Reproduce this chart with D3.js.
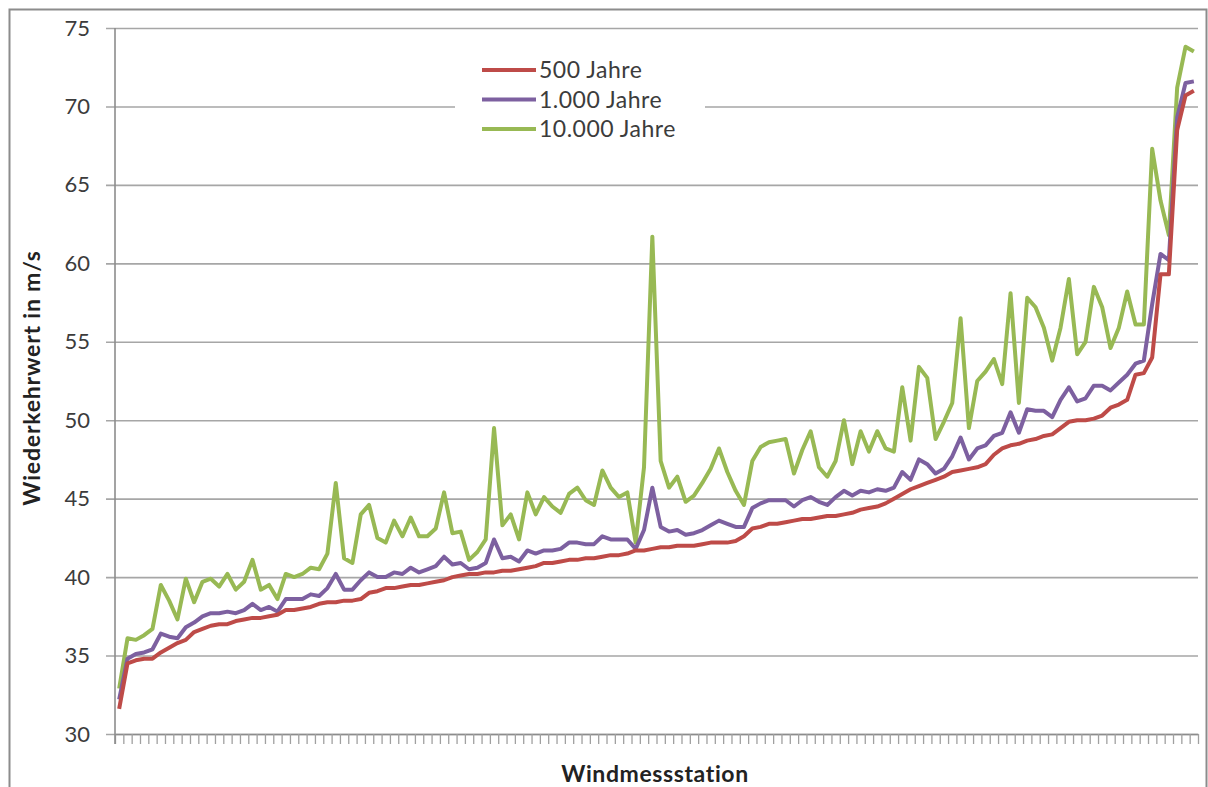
<html>
  <head>
    <meta charset="utf-8" />
    <title>Wiederkehrwert</title>
    <script src="https://cdn.jsdelivr.net/npm/d3@7"></script>
  </head>

  <style>
    html,
    body {
      width: 100%;
      height: 100%;
      margin: 0;
      padding: 0;
      background: #fff;
    }
    body {
      font-family: Lato, "Open Sans", sans-serif;
    }
  </style>

  <body>
    <svg width="1208" height="787" id="mainsvg"></svg>
    <script>
      // y axis ticks
      const yTicks = [30, 35, 40, 45, 50, 55, 60, 65, 70, 75];
      const seriesNames = ["500 Jahre", "1.000 Jahre", "10.000 Jahre"];
      const seriesColors = ["#be4b48", "#7d60a0", "#98b954"];

      // Wiederkehrwert (m/s) per Windmessstation, sorted by the 500-year value
      const jahre500 = [
        31.6, 34.5, 34.7, 34.8, 34.8, 35.2, 35.5, 35.8, 36.0, 36.5,
        36.7, 36.9, 37.0, 37.0, 37.2, 37.3, 37.4, 37.4, 37.5, 37.6,
        37.9, 37.9, 38.0, 38.1, 38.3, 38.4, 38.4, 38.5, 38.5, 38.6,
        39.0, 39.1, 39.3, 39.3, 39.4, 39.5, 39.5, 39.6, 39.7, 39.8,
        40.0, 40.1, 40.2, 40.2, 40.3, 40.3, 40.4, 40.4, 40.5, 40.6,
        40.7, 40.9, 40.9, 41.0, 41.1, 41.1, 41.2, 41.2, 41.3, 41.4,
        41.4, 41.5, 41.7, 41.7, 41.8, 41.9, 41.9, 42.0, 42.0, 42.0,
        42.1, 42.2, 42.2, 42.2, 42.3, 42.6, 43.1, 43.2, 43.4, 43.4,
        43.5, 43.6, 43.7, 43.7, 43.8, 43.9, 43.9, 44.0, 44.1, 44.3,
        44.4, 44.5, 44.7, 45.0, 45.3, 45.6, 45.8, 46.0, 46.2, 46.4,
        46.7, 46.8, 46.9, 47.0, 47.2, 47.8, 48.2, 48.4, 48.5, 48.7,
        48.8, 49.0, 49.1, 49.5, 49.9, 50.0, 50.0, 50.1, 50.3, 50.8,
        51.0, 51.3, 52.9, 53.0, 54.0, 59.3, 59.3, 68.5, 70.7, 71.0,
      ];
      const jahre1000 = [
        32.2, 34.8, 35.1, 35.2, 35.4, 36.4, 36.2, 36.1, 36.8, 37.1,
        37.5, 37.7, 37.7, 37.8, 37.7, 37.9, 38.3, 37.9, 38.1, 37.8,
        38.6, 38.6, 38.6, 38.9, 38.8, 39.3, 40.2, 39.2, 39.2, 39.8,
        40.3, 40.0, 40.0, 40.3, 40.2, 40.6, 40.3, 40.5, 40.7, 41.3,
        40.8, 40.9, 40.5, 40.6, 40.9, 42.4, 41.2, 41.3, 41.0, 41.7,
        41.5, 41.7, 41.7, 41.8, 42.2, 42.2, 42.1, 42.1, 42.6, 42.4,
        42.4, 42.4, 41.8, 43.0, 45.7, 43.2, 42.9, 43.0, 42.7, 42.8,
        43.0, 43.3, 43.6, 43.4, 43.2, 43.2, 44.4, 44.7, 44.9, 44.9,
        44.9, 44.5, 44.9, 45.1, 44.8, 44.6, 45.1, 45.5, 45.2, 45.5,
        45.4, 45.6, 45.5, 45.7, 46.7, 46.2, 47.5, 47.2, 46.6, 46.9,
        47.7, 48.9, 47.5, 48.2, 48.4, 49.0, 49.2, 50.5, 49.2, 50.7,
        50.6, 50.6, 50.2, 51.3, 52.1, 51.2, 51.4, 52.2, 52.2, 51.9,
        52.4, 52.9, 53.6, 53.8, 57.4, 60.6, 60.2, 69.3, 71.5, 71.6,
      ];
      const jahre10000 = [
        32.9, 36.1, 36.0, 36.3, 36.7, 39.5, 38.5, 37.3, 39.9, 38.4,
        39.7, 39.9, 39.4, 40.2, 39.2, 39.7, 41.1, 39.2, 39.5, 38.6,
        40.2, 40.0, 40.2, 40.6, 40.5, 41.5, 46.0, 41.2, 40.9, 44.0,
        44.6, 42.5, 42.2, 43.6, 42.6, 43.8, 42.6, 42.6, 43.1, 45.4,
        42.8, 42.9, 41.1, 41.6, 42.4, 49.5, 43.3, 44.0, 42.4, 45.4,
        44.0, 45.1, 44.5, 44.1, 45.3, 45.7, 44.9, 44.6, 46.8, 45.7,
        45.1, 45.4, 42.2, 47.0, 61.7, 47.4, 45.7, 46.4, 44.8, 45.2,
        46.0, 46.9, 48.2, 46.7, 45.5, 44.6, 47.4, 48.3, 48.6, 48.7,
        48.8, 46.6, 48.1, 49.3, 47.0, 46.4, 47.4, 50.0, 47.2, 49.3,
        48.0, 49.3, 48.2, 48.0, 52.1, 48.7, 53.4, 52.7, 48.8, 49.9,
        51.1, 56.5, 49.5, 52.5, 53.1, 53.9, 52.3, 58.1, 51.1, 57.8,
        57.2, 55.9, 53.8, 55.9, 59.0, 54.2, 55.0, 58.5, 57.2, 54.6,
        55.9, 58.2, 56.1, 56.1, 67.3, 64.0, 61.8, 71.2, 73.8, 73.5,
      ];

      const svg = d3.select("svg");
      const plotLeft = 115,
        plotRight = 1198,
        plotTop = 28,
        plotBottom = 734;
      const n = jahre500.length;

      const xScale = d3.scaleLinear().domain([0, n]).range([plotLeft, plotRight]);
      const yScale = d3.scaleLinear().domain([30, 75]).range([plotBottom, plotTop]);

      // outer frame
      svg
        .append("rect")
        .attr("x", 9.5)
        .attr("y", 9.5)
        .attr("width", 1197)
        .attr("height", 800)
        .attr("fill", "#fff")
        .attr("stroke", "#8c8c8c")
        .attr("stroke-width", 2);

      // gridlines + y ticks
      const yAxisGroup = svg
        .append("g")
        .attr("class", "myy")
        .attr("transform", `translate(${plotLeft}, 0)`)
        .call(
          d3.axisLeft(yScale).tickValues(yTicks).tickSize(9).tickPadding(16)
        );
      yAxisGroup.select(".domain").remove();
      yAxisGroup
        .selectAll(".tick line")
        .attr("x2", plotRight - plotLeft)
        .attr("x1", -9)
        .attr("stroke", "#a6a6a6")
        .attr("stroke-width", 1.6);
      yAxisGroup
        .selectAll(".tick text")
        .attr("fill", "#3c3c3c")
        .style("font-family", "Lato, sans-serif")
        .style("font-size", "22px");

      // x axis with category ticks
      const xAxisGroup = svg
        .append("g")
        .attr("class", "myx")
        .attr("transform", `translate(0, ${plotBottom})`)
        .call(
          d3
            .axisBottom(xScale)
            .tickValues(d3.range(n + 1))
            .tickSize(10)
            .tickSizeOuter(0)
            .tickFormat("")
        );
      xAxisGroup.select(".domain").attr("stroke", "#8c8c8c").attr("stroke-width", 1.6);
      xAxisGroup
        .selectAll(".tick line")
        .attr("stroke", "#a0a0a0")
        .attr("stroke-width", 1.3);

      // vertical axis line
      svg
        .append("line")
        .attr("x1", plotLeft)
        .attr("x2", plotLeft)
        .attr("y1", yScale(75))
        .attr("y2", plotBottom + 10)
        .attr("stroke", "#8c8c8c")
        .attr("stroke-width", 1.6);

      // legend box covers the gridline
      const legend = svg.append("g");
      legend
        .append("rect")
        .attr("x", 455)
        .attr("y", 52)
        .attr("width", 250)
        .attr("height", 96)
        .attr("fill", "#fff");

      // lines
      const line = d3
        .line()
        .x((d, i) => xScale(i + 0.5))
        .y((d) => yScale(d));
      const allSeries = [jahre500, jahre1000, jahre10000];
      svg
        .selectAll(".myline")
        .data(allSeries.slice().reverse())
        .join("path")
        .attr("class", "myline")
        .attr("d", line)
        .attr("fill", "none")
        .attr("stroke", (d, i) => seriesColors[2 - i])
        .attr("stroke-width", 4)
        .attr("stroke-linejoin", "round");

      // legend entries
      seriesNames.forEach((name, i) => {
        const ly = 70 + i * 29.5;
        legend
          .append("line")
          .attr("x1", 482)
          .attr("x2", 536)
          .attr("y1", ly)
          .attr("y2", ly)
          .attr("stroke", seriesColors[i])
          .attr("stroke-width", 4);
        legend
          .append("text")
          .attr("x", 539)
          .attr("y", ly + 8)
          .attr("fill", "#3c3c3c")
          .style("font-size", "23px")
          .style("letter-spacing", "0.5px")
          .text(name);
      });

      // axis titles
      svg
        .append("text")
        .attr("x", 655)
        .attr("y", 782)
        .attr("text-anchor", "middle")
        .attr("fill", "#222")
        .style("font-size", "23px")
        .style("letter-spacing", "0.6px")
        .style("font-weight", "700")
        .text("Windmessstation");
      svg
        .append("text")
        .attr("transform", "translate(40, 378) rotate(-90)")
        .attr("text-anchor", "middle")
        .attr("fill", "#222")
        .style("font-size", "23px")
        .style("letter-spacing", "0.8px")
        .style("font-weight", "700")
        .text("Wiederkehrwert in m/s");
    </script>
  </body>
</html>
